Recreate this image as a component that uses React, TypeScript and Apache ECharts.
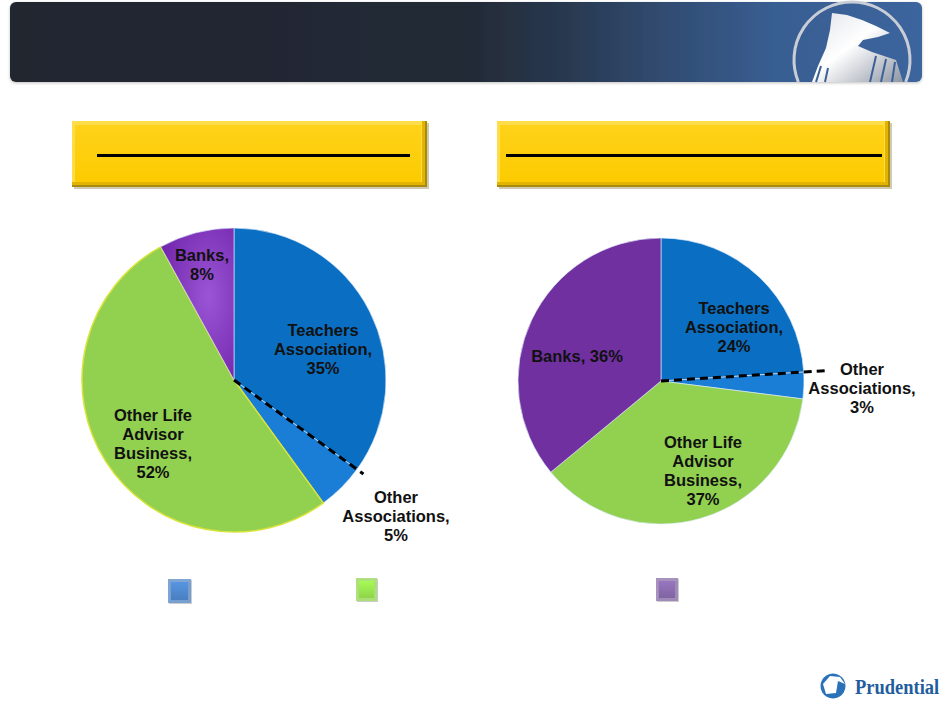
import React, { useEffect, useRef } from "react";
import * as echarts from "echarts";

// ---------- data ----------
const categories = [
  "Teachers\nAssociation",
  "Other\nAssociations",
  "Other Life\nAdvisor\nBusiness",
  "Banks",
];
const leftValues = [35, 5, 52, 8];
const rightValues = [24, 3, 37, 36];

// ---------- styling / layout ----------
const sliceColorsLeft = ["#0a6fc2", "#1a7dd6", "#92d050", "#7a2fb4"];
const sliceColorsRight = ["#0a6fc2", "#1a7dd6", "#92d050", "#7030a0"];
const legendColors = ["#4a7fc0", "#8ed44a", "#8064a2"];

const LEFT = { cx: 234, cy: 380, r: 152, ext: 8 };
const RIGHT = { cx: 661, cy: 381, r: 143, ext: 26 };

const leftLabelPos = [
  [323, 349],
  [396, 516],
  [153, 443],
  [202, 264],
];
const rightLabelPos = [
  [734, 327],
  [862, 388],
  [703, 470],
  [577, 356],
];

const FONT = "'Liberation Sans', Arial, sans-serif";

function boundaryLine(values: number[], idx: number, geo: typeof LEFT) {
  const total = values.reduce((a, b) => a + b, 0);
  let cum = 0;
  for (let i = 0; i < idx; i++) cum += values[i];
  const a = (cum / total) * Math.PI * 2;
  const len = geo.r + geo.ext;
  return {
    type: "line",
    z: 100,
    shape: {
      x1: geo.cx,
      y1: geo.cy,
      x2: geo.cx + len * Math.sin(a),
      y2: geo.cy - len * Math.cos(a),
    },
    style: { stroke: "#000", lineWidth: 3, lineDash: [8, 5] },
  };
}

function yellowBox(x: number, y: number, w: number, h: number, lx1: number, lx2: number) {
  return [
    { type: "rect", shape: { x: x + 2, y: y + 2, width: w, height: h }, style: { fill: "rgba(120,100,40,0.35)" } },
    { type: "rect", shape: { x, y, width: w, height: h }, style: { fill: "#a88a0c" } },
    { type: "rect", shape: { x, y, width: w - 2, height: h - 2 }, style: { fill: "#e2b400" } },
    { type: "rect", shape: { x, y, width: w - 5, height: h - 5 }, style: { fill: "#ffdc4a" } },
    {
      type: "rect",
      shape: { x: x + 3, y: y + 4, width: w - 9, height: h - 9 },
      style: {
        fill: {
          type: "linear", x: 0, y: 0, x2: 0, y2: 1,
          colorStops: [
            { offset: 0, color: "#ffd21a" },
            { offset: 1, color: "#fccb00" },
          ],
        },
      },
    },
    { type: "rect", shape: { x: lx1, y: y + 33, width: lx2 - lx1, height: 3 }, style: { fill: "#000" } },
  ];
}

function legendSquare(x: number, y: number, w: number, h: number, color: string) {
  const c = echarts.color;
  return [
    { type: "rect", shape: { x: x + 1, y: y + 1, width: w, height: h }, style: { fill: "rgba(0,0,0,0.2)" } },
    { type: "rect", shape: { x, y, width: w, height: h }, style: { fill: c.lift(color, 0.3) } },
    { type: "rect", shape: { x: x + 2, y: y + 3, width: w - 2, height: h - 3 }, style: { fill: c.lift(color, 0.25) } },
    {
      type: "rect",
      shape: { x: x + 3, y: y + 3, width: w - 6, height: h - 6 },
      style: {
        fill: {
          type: "linear", x: 0, y: 0, x2: 0, y2: 1,
          colorStops: [
            { offset: 0, color: c.lift(color, -0.18) },
            { offset: 1, color: color },
          ],
        },
      },
    },
  ];
}

function makeSeries(
  values: number[],
  colors: string[],
  geo: typeof LEFT,
  pos: number[][],
  inlineIdx: number,
  isLeft: boolean
) {
  return {
    type: "pie",
    center: [geo.cx, geo.cy],
    radius: [0, geo.r],
    startAngle: 90,
    clockwise: true,
    silent: true,
    labelLine: { show: false },
    label: {
      show: true,
      position: "inside",
      color: "#111",
      fontFamily: FONT,
      fontWeight: "bold",
      fontSize: 16.5,
      lineHeight: 19,
      align: "center",
      formatter: (p: any) =>
        p.name + "," + (p.dataIndex === inlineIdx ? " " : "\n") + p.value + "%",
    },
    labelLayout: (p: any) => ({
      x: pos[p.dataIndex][0],
      y: pos[p.dataIndex][1],
      align: "center",
      verticalAlign: "middle",
    }),
    data: values.map((v, i) => ({
      name: categories[i],
      value: v,
      itemStyle: {
        color:
          isLeft && i === 3
            ? {
                type: "radial", x: 0.65, y: 0.45, r: 0.75,
                colorStops: [
                  { offset: 0, color: "#9a55d6" },
                  { offset: 1, color: "#6f22a8" },
                ],
              }
            : colors[i],
        borderColor: i === 2 && isLeft ? "#d9e33a" : "rgba(220,235,250,0.8)",
        borderWidth: i === 2 && isLeft ? 1.5 : 0.8,
      },
    })),
  };
}

export default function App() {
  const ref = useRef<HTMLDivElement>(null);

  useEffect(() => {
    if (!ref.current) return;
    const chart = echarts.init(ref.current, undefined, { renderer: "svg" });

    const logoArcStart = Math.PI - Math.asin(22 / 58);
    const logoArcEnd = 2 * Math.PI + Math.asin(22 / 58);
    const strand = (x1: number, y1: number, x2: number, y2: number) => ({
      type: "line",
      shape: { x1, y1, x2, y2 },
      style: { stroke: "#3d6196", lineWidth: 2 },
    });

    const graphic: any[] = [
      // header banner
      {
        type: "rect",
        shape: { x: 10, y: 2, width: 912, height: 80, r: 6 },
        style: {
          fill: {
            type: "linear", x: 0, y: 0, x2: 1, y2: 0,
            colorStops: [
              { offset: 0, color: "#20252f" },
              { offset: 0.5, color: "#232a36" },
              { offset: 0.6, color: "#28374c" },
              { offset: 0.72, color: "#314c72" },
              { offset: 0.84, color: "#395e92" },
              { offset: 1, color: "#3c659e" },
            ],
          },
          shadowColor: "rgba(0,0,0,0.25)",
          shadowBlur: 3,
          shadowOffsetY: 1,
        },
      },
      // logo ring
      {
        type: "arc",
        shape: { cx: 852, cy: 60, r: 58, startAngle: logoArcStart, endAngle: logoArcEnd, clockwise: true },
        style: { stroke: "#c9ced6", lineWidth: 3, fill: "none" },
      },
      // logo rock figure
      {
        type: "polygon",
        shape: {
          points: [
            [832, 13], [847, 15], [862, 20], [876, 26], [890, 33], [878, 37], [863, 40],
            [858, 46], [872, 52], [896, 60], [903, 82], [812, 82], [818, 66],
            [826, 48], [830, 30],
          ],
        },
        style: {
          fill: {
            type: "linear", x: 0, y: 0, x2: 1, y2: 1,
            colorStops: [
              { offset: 0, color: "#dfe3e8" },
              { offset: 0.45, color: "#ffffff" },
              { offset: 1, color: "#8d96a4" },
            ],
          },
        },
      },
      strand(876, 56, 870, 82),
      strand(886, 59, 881, 82),
      strand(895, 62, 892, 82),
      strand(821, 66, 816, 82),
      strand(828, 68, 825, 82),
      ...yellowBox(72, 121, 355, 66, 97, 410),
      ...yellowBox(497, 121, 393, 66, 506, 882),
      ...legendSquare(168, 579, 23, 24, legendColors[0]),
      ...legendSquare(356, 578, 21, 23, legendColors[1]),
      ...legendSquare(656, 578, 22, 23, legendColors[2]),
      // dashed leader lines (computed from data)
      boundaryLine(leftValues, 1, LEFT),
      boundaryLine(rightValues, 1, RIGHT),
      // Prudential footer logo
      {
        type: "circle",
        shape: { cx: 833, cy: 686, r: 12.5 },
        style: { fill: "#2a72b8" },
      },
      {
        type: "polygon",
        shape: {
          points: [[823, 684], [830, 676], [840, 677], [845, 684], [838, 681], [836, 693], [826, 694]],
        },
        style: { fill: "#ffffff" },
      },
      {
        type: "text",
        x: 855,
        y: 687,
        scaleX: 0.88,
        style: {
          text: "Prudential",
          fill: "#1f5d9e",
          font: "bold 21px 'Liberation Serif', 'Times New Roman', serif",
          verticalAlign: "middle",
          align: "left",
        },
      },
    ];

    chart.setOption({
      animation: false,
      backgroundColor: "#ffffff",
      graphic,
      series: [
        makeSeries(leftValues, sliceColorsLeft, LEFT, leftLabelPos, -1, true),
        makeSeries(rightValues, sliceColorsRight, RIGHT, rightLabelPos, 3, false),
      ],
    });

    return () => chart.dispose();
  }, []);

  return (
    <div
      ref={ref}
      style={{ position: "fixed", left: 0, top: 0, width: 946, height: 707 }}
    />
  );
}
